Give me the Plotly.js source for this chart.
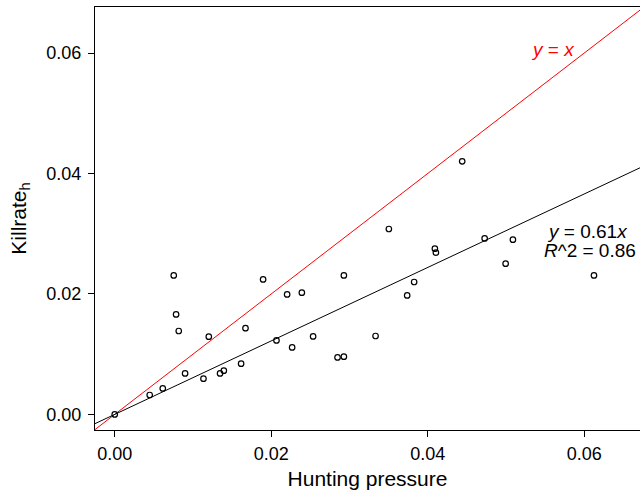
<!DOCTYPE html>
<html>
<head>
<meta charset="utf-8">
<script src="https://cdn.plot.ly/plotly-3.0.1.min.js"></script>
<style>
html,body{margin:0;padding:0;background:#fff;}
#chart{width:640px;height:494px;}
</style>
</head>
<body>
<div id="chart"></div>
<script>
// Data
var huntingPressure = [0.0000, 0.00447, 0.00614, 0.00754, 0.00784, 0.00818, 0.00899, 0.01134, 0.01202, 0.01346,
  0.01394, 0.01615, 0.01671, 0.01896, 0.02203, 0.02391, 0.02928, 0.02067, 0.02267, 0.02535,
  0.03333, 0.02847, 0.02928, 0.04440, 0.03503, 0.04091, 0.04104, 0.04727, 0.05088, 0.04995,
  0.06124, 0.03826, 0.03737];
var killrate = [0.0000, 0.00322, 0.00432, 0.02308, 0.01660, 0.01385, 0.00681, 0.00593, 0.01290, 0.00681,
  0.00726, 0.00842, 0.01431, 0.02241, 0.01992, 0.02021, 0.02308, 0.01229, 0.01112, 0.01295,
  0.01302, 0.00946, 0.00958, 0.04201, 0.03078, 0.02751, 0.02685, 0.02922, 0.02901, 0.02502,
  0.02308, 0.02198, 0.01976];
var fitSlope = 0.61;
var identitySlope = 1;
var lineX = [-0.01, 0.08];
var xTicks = [0, 0.02, 0.04, 0.06];
var xTickLabels = ['0.00', '0.02', '0.04', '0.06'];
var yTicks = [0, 0.02, 0.04, 0.06];
var yTickLabels = ['0.00', '0.02', '0.04', '0.06'];

var font = 'Liberation Sans, Arial, sans-serif';

var traces = [
  {
    x: lineX, y: lineX.map(function(v){return identitySlope*v;}),
    mode: 'lines', type: 'scatter', line: {color: '#ff0000', width: 1}, hoverinfo: 'skip'
  },
  {
    x: lineX, y: lineX.map(function(v){return fitSlope*v;}),
    mode: 'lines', type: 'scatter', line: {color: '#000000', width: 1}, hoverinfo: 'skip'
  },
  {
    x: huntingPressure, y: killrate, mode: 'markers', type: 'scatter',
    marker: {symbol: 'circle-open', size: 5.5, color: '#000', line: {width: 1.2, color: '#000'}}
  }
];

var layout = {
  width: 640, height: 494,
  margin: {l: 95, r: 0, t: 7, b: 64, pad: 0},
  showlegend: false,
  paper_bgcolor: '#fff', plot_bgcolor: '#fff',
  font: {family: font, color: '#000', size: 18},
  xaxis: {
    range: [-0.00252, 0.06712],
    tickvals: xTicks, ticktext: xTickLabels,
    showgrid: false, zeroline: false,
    showline: true, linecolor: '#000', linewidth: 1, mirror: true,
    ticks: 'outside', ticklen: 6, tickcolor: '#000', tickwidth: 1,
    ticklabelstandoff: 1,
    tickfont: {size: 18, family: font, color: '#000'},
    title: {text: 'Hunting pressure', font: {size: 21, family: font, color: '#000'}, standoff: 8}
  },
  yaxis: {
    range: [-0.00259, 0.06764],
    tickvals: yTicks, ticktext: yTickLabels,
    showgrid: false, zeroline: false,
    showline: true, linecolor: '#000', linewidth: 1, mirror: false,
    ticks: 'outside', ticklen: 6, tickcolor: '#000', tickwidth: 1,
    ticklabelstandoff: 3,
    tickfont: {size: 18, family: font, color: '#000'},
    title: {text: 'Killrate<sub>h</sub>', font: {size: 21, family: font, color: '#000'}, standoff: 14}
  },
  annotations: [
    {x: 0.0560, y: 0.0606, xref: 'x', yref: 'y', text: '<i>y</i> = <i>x</i>', showarrow: false,
     font: {size: 19, family: font, color: '#ff0000'}, xanchor: 'center', yanchor: 'middle'},
    {x: 0.0604, y: 0.0303, xref: 'x', yref: 'y', text: '<i>y</i> = 0.61<i>x</i>', showarrow: false,
     font: {size: 19, family: font, color: '#000'}, xanchor: 'center', yanchor: 'middle'},
    {x: 0.0607, y: 0.0272, xref: 'x', yref: 'y', text: '<i>R</i>^2 = 0.86', showarrow: false,
     font: {size: 19, family: font, color: '#000'}, xanchor: 'center', yanchor: 'middle'}
  ]
};

Plotly.newPlot('chart', traces, layout, {displayModeBar: false, staticPlot: true});
</script>
</body>
</html>
